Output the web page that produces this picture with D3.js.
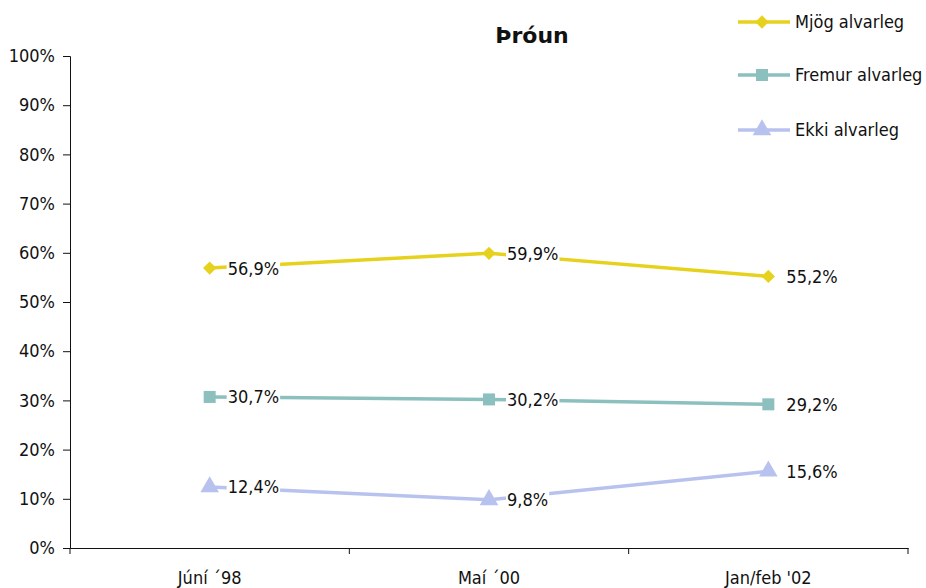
<!DOCTYPE html>
<html>
<head>
<meta charset="utf-8">
<script src="https://cdn.jsdelivr.net/npm/d3@7"></script>
<style>
body { margin: 0; background: #fff; }
text { font-family: "Liberation Sans Narrow", "DejaVu Sans Condensed", sans-serif; font-stretch: condensed; fill: #111; }
</style>
</head>
<body>
<div id="chart"></div>
<script>
var categories = ['Júní ´98', 'Maí ´00', 'Jan/feb \'02']
var mjog = [56.9, 59.9, 55.2]
var fremur = [30.7, 30.2, 29.2]
var ekki = [12.4, 9.8, 15.6]
var seriesNames = ['Mjög alvarleg', 'Fremur alvarleg', 'Ekki alvarleg']
var yTicks = [0, 10, 20, 30, 40, 50, 60, 70, 80, 90, 100]

var color = ['#E6D21C', '#8CC0BE', '#B8C2EE']
var shapes = [d3.symbolSquare, d3.symbolSquare, d3.symbolTriangle]
var sizes = [88, 144, 150]
var rotate = [45, 0, 0]
var series = [mjog, fremur, ekki]

var width = 926
var height = 588
var mLeft = 70, mRight = 908, mTop = 56, mBottom = 548

var svg = d3.select('#chart')
			.append('svg')
				.attr('width', width)
				.attr('height', height)

var x = d3.scaleBand()
		.domain(categories)
		.range([mLeft, mRight])

var y = d3.scaleLinear()
		.domain([0, 100])
		.range([mBottom, mTop])

// y axis
svg.append('g')
	.attr('transform', 'translate(' + mLeft + ',0)')
	.call(d3.axisLeft(y).tickValues(yTicks).tickSize(7).tickPadding(8).tickFormat(function(d) { return d + '%' }))
	.call(function(g) {
		g.selectAll('path, line').attr('stroke', '#111')
		g.selectAll('text').style('font-size', '18px')
	})

// x axis, ticks between categories
svg.append('g')
	.attr('transform', 'translate(0,' + mBottom + ')')
	.call(d3.axisBottom(x).tickSize(0).tickPadding(23))
	.call(function(g) {
		g.selectAll('path').attr('stroke', '#111')
		g.selectAll('text').style('font-size', '18px')
	})

svg.append('g')
	.selectAll('line')
	.data(d3.range(categories.length + 1))
	.enter().append('line')
		.attr('x1', function(i) { return mLeft + i * x.step() })
		.attr('x2', function(i) { return mLeft + i * x.step() })
		.attr('y1', mBottom)
		.attr('y2', mBottom + 6)
		.attr('stroke', '#111')

// title
svg.append('text')
	.attr('x', 532)
	.attr('y', 43)
	.attr('text-anchor', 'middle')
	.style('font-family', '"DejaVu Sans", sans-serif')
	.style('font-stretch', 'normal')
	.style('font-weight', 'bold')
	.style('font-size', '22px')
	.text('Þróun')

var line = d3.line()
	.x(function(d, i) { return x(categories[i]) + x.bandwidth() / 2 })
	.y(function(d) { return y(d) })

series.forEach(function(s, k) {
	var g = svg.append('g')
	g.append('path')
		.datum(s)
		.attr('d', line)
		.attr('fill', 'none')
		.attr('stroke', color[k])
		.attr('stroke-width', 3.5)

	var lab = g.selectAll('g.lab')
		.data(s)
		.enter().append('g')
			.attr('class', 'lab')
	lab.append('text')
		.attr('x', function(d, i) { return x(categories[i]) + x.bandwidth() / 2 + 18 })
		.attr('y', function(d) { return y(d) })
		.attr('dy', '0.36em')
		.style('font-size', '18px')
		.text(function(d) { return d.toFixed(1).replace('.', ',') + '%' })
	lab.each(function() {
		var t = d3.select(this).select('text')
		var b = t.node().getBBox()
		d3.select(this).insert('rect', 'text')
			.attr('x', b.x - 1).attr('y', b.y + 2)
			.attr('width', b.width + 2).attr('height', b.height - 4)
			.attr('fill', '#fff')
	})

	g.selectAll('path.pt')
		.data(s)
		.enter().append('path')
			.attr('class', 'pt')
			.attr('transform', function(d, i) { return 'translate(' + (x(categories[i]) + x.bandwidth() / 2) + ',' + y(d) + ') rotate(' + rotate[k] + ')' })
			.attr('d', d3.symbol().type(shapes[k]).size(sizes[k]))
			.attr('fill', color[k])
})

// legend
var legY = [22, 75, 130]
var leg = svg.append('g')
	.selectAll('g')
	.data(seriesNames)
	.enter().append('g')
		.attr('transform', function(d, i) { return 'translate(0,' + legY[i] + ')' })
leg.append('line')
	.attr('x1', 738).attr('x2', 790)
	.attr('stroke', function(d, i) { return color[i] })
	.attr('stroke-width', 3.5)
leg.append('path')
	.attr('transform', function(d, i) { return 'translate(762,0) rotate(' + rotate[i] + ')' })
	.attr('d', function(d, i) { return d3.symbol().type(shapes[i]).size(sizes[i])() })
	.attr('fill', function(d, i) { return color[i] })
leg.append('text')
	.attr('x', 795)
	.attr('dy', '0.36em')
	.style('font-size', '18px')
	.text(function(d) { return d })
</script>
</body>
</html>
